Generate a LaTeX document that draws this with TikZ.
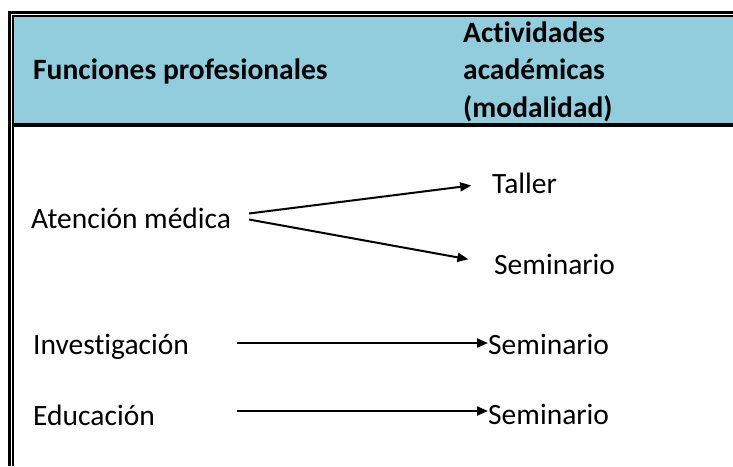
\documentclass[tikz,border=0pt]{standalone}
\usepackage{fontspec}
\setmainfont{Carlito}[Ligatures=CommonOff]
\usetikzlibrary{arrows.meta}
\definecolor{cabecera}{RGB}{146,205,221}
\tikzset{
  texto/.style={inner sep=0pt,anchor=base west,font=\fontsize{29.5}{37}\selectfont},
  titulo/.style={texto,font=\fontsize{29.5}{37.5}\selectfont\bfseries,align=left},
  flecha/.style={line width=2pt,-{Triangle[length=11pt,width=9pt]}}
}

\begin{document}
\begin{tikzpicture}[x=1pt,y=-1pt]
\useasboundingbox (0,0) rectangle (733,466);
\fill[cabecera] (13.5,16.5) rectangle (733,123);
\draw[line width=3pt] (9.5,466) -- (9.5,12) -- (733,12);
\draw[line width=1.5pt] (13,466) -- (13,15.75) -- (733,15.75);
\draw[line width=4pt] (12,124.7) -- (733,124.7);
\node[titulo] (funciones) at (33,79) {Funciones profesionales};
\node[titulo] (actividades) at (463,117) {Actividades\\académicas\\(modalidad)};
\node[texto] (atencion) at (31,228) {Atención médica};
\node[texto] (taller) at (492,193) {Taller};
\node[texto] (sem1) at (494,274) {Seminario};
\node[texto] (invest) at (33,354) {Investigación};
\node[texto] (sem2) at (488,354) {Seminario};
\node[texto] (educ) at (33,425) {Educación};
\node[texto] (sem3) at (488,424) {Seminario};
\coordinate (am1) at (249,213.5);
\coordinate (am2) at (249,219.5);
\coordinate (inv) at (237,343);
\coordinate (edu) at (237,411);
\draw[flecha,shorten >=21pt] (am1) -- (taller.west);
\draw[flecha,shorten >=26pt] (am2) -- (sem1.west);
\draw[flecha] (inv) -- (inv -| sem2.west);
\draw[flecha] (edu) -- (edu -| sem3.west);
\end{tikzpicture}
\end{document}
